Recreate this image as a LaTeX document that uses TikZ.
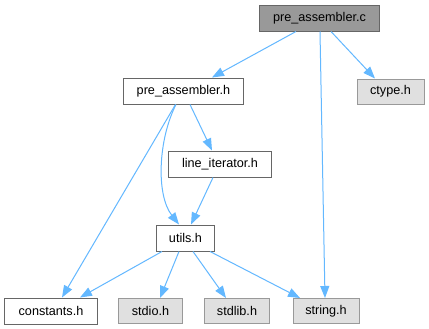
\documentclass[tikz,border=0pt]{standalone}
\usepackage{fontspec}
\setmainfont{Liberation Sans}
\usetikzlibrary{arrows.meta}
\definecolor{edgeblue}{HTML}{63B8FF}
\definecolor{curfill}{HTML}{999999}
\definecolor{curdraw}{HTML}{666666}
\definecolor{sysfill}{HTML}{E0E0E0}
\definecolor{sysdraw}{HTML}{999999}
\tikzset{
  file/.style={draw=curdraw, fill=white, line width=1bp, inner sep=0pt,
    minimum height=26bp, font=\fontsize{12.7}{14}\selectfont},
  current/.style={file, fill=curfill},
  sysfile/.style={file, draw=sysdraw, fill=sysfill, minimum height=25bp},
  dep/.style={draw=edgeblue, line width=1bp,
    -{Stealth[length=12bp, width=9bp, inset=0bp]}},
}
\begin{document}
\begin{tikzpicture}[x=1bp, y=-1bp]
\useasboundingbox[fill=white] (0,0) rectangle (429,329);

% files
\node[current, minimum width=119bp] (pac) at (319.5,18) {pre\_assembler.c};
\node[sysfile, minimum width=67bp] (ctype) at (390.5,91.5) {ctype.h};
\node[file, minimum width=119bp] (pah) at (183.5,91) {pre\_assembler.h};
\node[file, minimum width=102bp] (li) at (220,164) {line\_iterator.h};
\node[file, minimum width=57bp] (utils) at (185.5,238) {utils.h};
\node[file, minimum width=92bp] (constants) at (51,311) {constants.h};
\node[sysfile, minimum width=63bp] (stdio) at (150.5,311) {stdio.h};
\node[sysfile, minimum width=64bp] (stdlib) at (237,311) {stdlib.h};
\node[sysfile, minimum width=66bp] (string) at (326,311) {string.h};

% include dependencies
\draw[dep] ([xshift=-23.5bp]pac.south) -- ([xshift=28.5bp]pah.north);
\draw[dep] ([xshift=0.5bp]pac.south) -- ([xshift=-1bp]string.north);
\draw[dep] ([xshift=11.5bp]pac.south) -- ([xshift=-15.5bp]ctype.north);

\draw[dep] ([xshift=6.5bp]pah.south) -- ([xshift=-8bp]li.north);
\draw[dep] ([xshift=-7.5bp]pah.south) .. controls (158,140) and (156,195) .. ([xshift=-6.5bp]utils.north);
\draw[dep] ([xshift=-8bp]pah.south) -- ([xshift=11bp]constants.north);

\draw[dep] ([xshift=-7bp]li.south) -- ([xshift=5.5bp]utils.north);

\draw[dep] ([xshift=-23.5bp]utils.south) -- ([xshift=29bp]constants.north);
\draw[dep] ([xshift=-6.5bp]utils.south) -- ([xshift=9.5bp]stdio.north);
\draw[dep] ([xshift=7.5bp]utils.south) -- ([xshift=-11bp]stdlib.north);
\draw[dep] ([xshift=24.5bp]utils.south) -- ([xshift=-26bp]string.north);
\end{tikzpicture}
\end{document}
